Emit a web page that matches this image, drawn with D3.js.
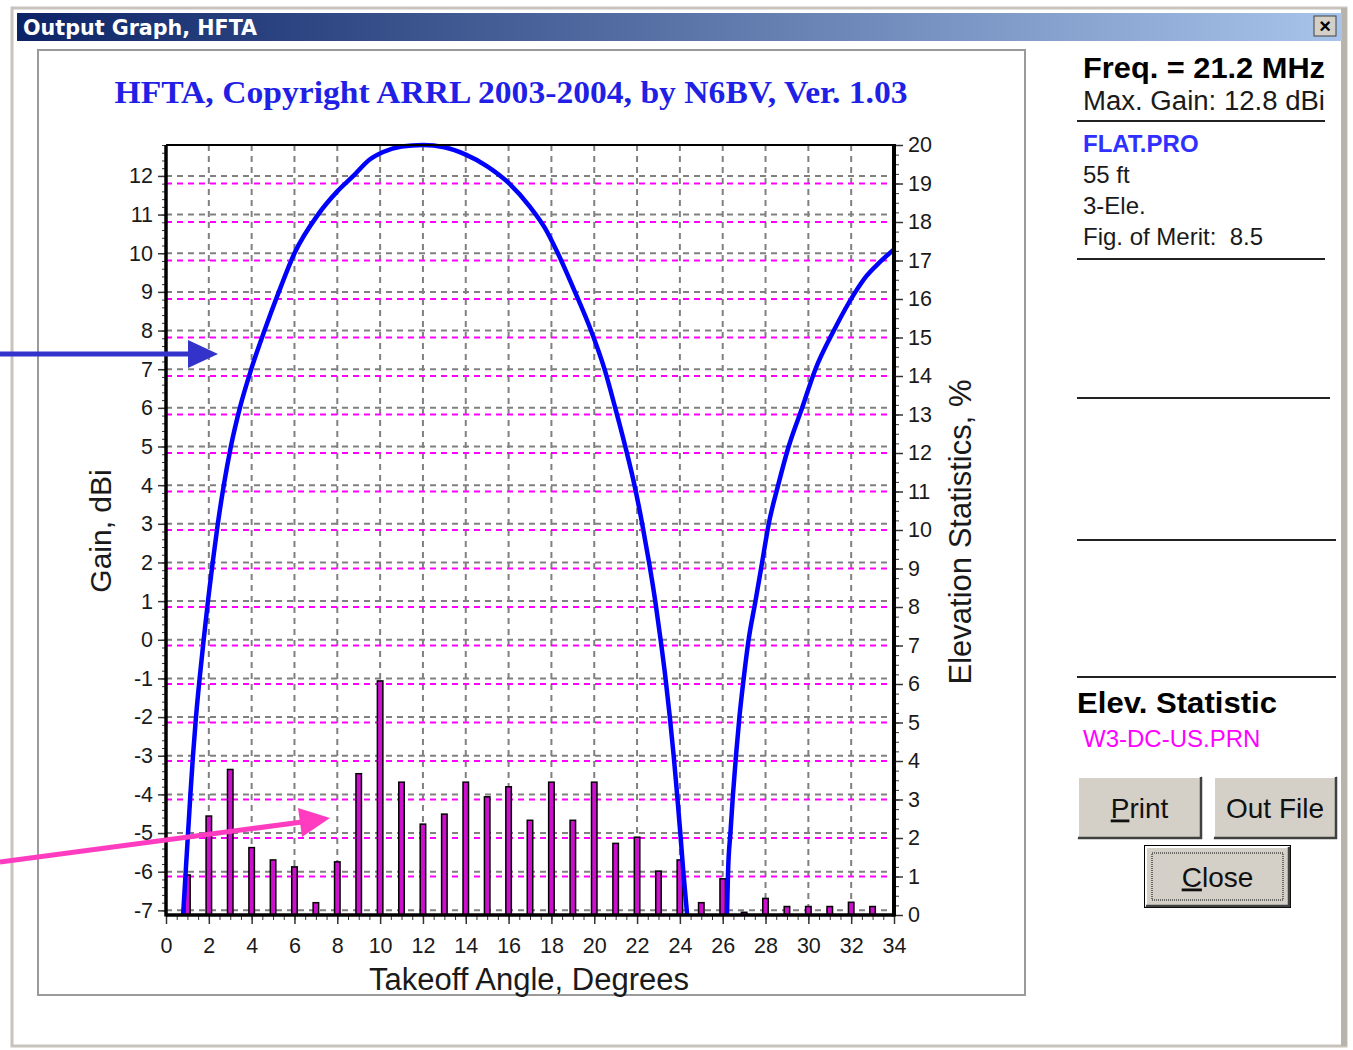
<!DOCTYPE html>
<html>
<head>
<meta charset="utf-8">
<script src="https://cdn.jsdelivr.net/npm/d3@7"></script>
<style>
  body { margin: 0; background: #fff; }
  svg text { font-family: "Liberation Sans", Arial, sans-serif; }
</style>
</head>
<body>
<svg id="chart" width="1353" height="1050"></svg>
<script>
// elevation statistics (% of openings) per takeoff angle
const barAngles = [1, 2, 3, 4, 5, 6, 7, 8, 9, 10, 11, 12, 13, 14, 15, 16, 17,
  18, 19, 20, 21, 22, 23, 24, 25, 26, 27, 28, 29, 30, 31, 32, 33]
const elevStats = [1.04, 2.57, 3.78, 1.75, 1.43, 1.25, 0.32, 1.38, 3.67, 6.08,
  3.45, 2.36, 2.62, 3.45, 3.07, 3.33, 2.46, 3.45, 2.46, 3.45, 1.86, 2.02, 1.14,
  1.43, 0.32, 0.94, 0.07, 0.43, 0.22, 0.22, 0.22, 0.33, 0.22]

// gain pattern, main lobe
const lobe1Angles = [0.8, 0.92, 1.03, 1.14, 1.26, 1.4, 1.57, 1.76, 1.96, 2.18,
  2.42, 2.7, 3.03, 3.45, 3.98, 4.6, 5.27, 6.0, 7.1, 8.0, 8.75, 9.5, 10.14, 11.0,
  12.0, 13.0, 14.0, 15.0, 16.0, 17.0, 17.7, 18.3, 19.1, 19.85, 20.48, 20.98,
  21.45, 21.88, 22.24, 22.56, 22.85, 23.1, 23.33, 23.53, 23.71, 23.87, 24.02,
  24.16, 24.34]
const lobe1Gain = [-7.12, -6, -5, -4, -3, -2, -1, 0, 1, 2, 3, 4, 5, 6, 7, 8, 9,
  10, 11, 11.6, 12, 12.42, 12.62, 12.76, 12.8, 12.74, 12.55, 12.25, 11.82, 11.2,
  10.65, 10, 9, 8, 7, 6, 5, 4, 3, 2, 1, 0, -1, -2, -3, -4, -5, -6, -7.12]

// gain pattern, second lobe
const lobe2Angles = [26.2, 26.25, 26.36, 26.48, 26.62, 26.78, 26.98, 27.21,
  27.53, 27.84, 28.15, 28.59, 29.08, 29.71, 30.33, 31.19, 32.2, 32.7, 33.3, 34.0]
const lobe2Gain = [-7.12, -6, -5, -4, -3, -2, -1, 0, 1, 2, 3, 4, 5, 6, 7, 8, 9,
  9.4, 9.75, 10.1]

const gainTicks = [-7, -6, -5, -4, -3, -2, -1, 0, 1, 2, 3, 4, 5, 6, 7, 8, 9, 10, 11, 12]
const elevTicks = [0, 1, 2, 3, 4, 5, 6, 7, 8, 9, 10, 11, 12, 13, 14, 15, 16, 17, 18, 19, 20]
const angleTicks = [0, 2, 4, 6, 8, 10, 12, 14, 16, 18, 20, 22, 24, 26, 28, 30, 32, 34]

const svg = d3.select('#chart')
const plotL = 166
const plotR = 894
const plotT = 145
const plotB = 915

const x = d3.scaleLinear().domain([0, 34]).range([plotL, plotR])
const yGain = d3.scaleLinear().domain([-7.12, 12.8]).range([plotB, plotT])
const yElev = d3.scaleLinear().domain([0, 20]).range([plotB, plotT])

// ---- window frame ----
const titleGrad = svg.append('defs').append('linearGradient')
  .attr('id', 'tgrad')
titleGrad.append('stop').attr('offset', '0%').attr('stop-color', '#0c2466')
titleGrad.append('stop').attr('offset', '100%').attr('stop-color', '#a8c4ea')

svg.append('rect').attr('x', 0).attr('y', 0).attr('width', 1353).attr('height', 1050)
  .attr('fill', '#ffffff')
svg.append('rect').attr('x', 12).attr('y', 8).attr('width', 1334).attr('height', 1038)
  .attr('fill', '#ffffff').attr('stroke', '#c8c4bc').attr('stroke-width', 3)
svg.append('rect').attr('x', 1341).attr('y', 8).attr('width', 6).attr('height', 1038)
  .attr('fill', '#b8b4ac')
svg.append('rect').attr('x', 17).attr('y', 13).attr('width', 1325).attr('height', 28)
  .attr('fill', 'url(#tgrad)')
svg.append('text').attr('x', 23).attr('y', 35)
  .attr('fill', '#ffffff').attr('font-weight', 'bold').attr('font-size', 22)
  .style('font-family', '"DejaVu Sans Condensed", "DejaVu Sans", sans-serif')
  .attr('textLength', 234).attr('lengthAdjust', 'spacingAndGlyphs')
  .text('Output Graph, HFTA')
svg.append('rect').attr('x', 1314).attr('y', 16).attr('width', 22).attr('height', 20)
  .attr('fill', '#d4d0c8').attr('stroke', '#404040').attr('stroke-width', 1)
svg.append('text').attr('x', 1325).attr('y', 33).attr('text-anchor', 'middle')
  .attr('font-size', 20).attr('font-weight', 'bold').attr('fill', '#000').text('×')

// chart panel
svg.append('rect').attr('x', 38).attr('y', 50).attr('width', 987).attr('height', 945)
  .attr('fill', '#ffffff').attr('stroke', '#9a9a9a').attr('stroke-width', 2)

// chart title
svg.append('text').attr('x', 511).attr('y', 103).attr('text-anchor', 'middle')
  .style('font-family', '"Liberation Serif", "Times New Roman", serif')
  .attr('font-weight', 'bold').attr('font-size', 31).attr('fill', '#1f1fe6')
  .attr('textLength', 793).attr('lengthAdjust', 'spacingAndGlyphs')
  .text('HFTA, Copyright ARRL 2003-2004, by N6BV, Ver. 1.03')

// ---- grid ----
const grid = svg.append('g')
grid.selectAll('.vgrid').data(angleTicks.filter(d => d > 0 && d < 34)).enter()
  .append('line').attr('class', 'vgrid')
  .attr('x1', d => x(d)).attr('x2', d => x(d))
  .attr('y1', plotT).attr('y2', plotB)
  .attr('stroke', '#808080').attr('stroke-width', 2).attr('stroke-dasharray', '6,5')
grid.selectAll('.hgrid').data(gainTicks).enter()
  .append('line').attr('class', 'hgrid')
  .attr('x1', plotL).attr('x2', plotR)
  .attr('y1', d => yGain(d)).attr('y2', d => yGain(d))
  .attr('stroke', '#808080').attr('stroke-width', 2).attr('stroke-dasharray', '6,5')
grid.selectAll('.egrid').data(elevTicks.filter(d => d > 0 && d < 20)).enter()
  .append('line').attr('class', 'egrid')
  .attr('x1', plotL).attr('x2', plotR)
  .attr('y1', d => yElev(d)).attr('y2', d => yElev(d))
  .attr('stroke', '#ff00ff').attr('stroke-width', 2).attr('stroke-dasharray', '6,5')

// ---- bars ----
svg.append('g').selectAll('rect').data(barAngles).enter()
  .append('rect')
  .attr('x', d => x(d) - 2.75)
  .attr('width', 5.5)
  .attr('y', (d, i) => yElev(elevStats[i]))
  .attr('height', (d, i) => plotB - yElev(elevStats[i]))
  .attr('fill', '#cc10cc').attr('stroke', '#000').attr('stroke-width', 1.5)

// ---- gain curve ----
svg.append('clipPath').attr('id', 'plotclip').append('rect')
  .attr('x', plotL).attr('y', plotT - 3).attr('width', plotR - plotL).attr('height', plotB - plotT + 3)
const line = d3.line().x(d => x(d[0])).y(d => yGain(d[1])).curve(d3.curveMonotoneX)
const curves = svg.append('g').attr('clip-path', 'url(#plotclip)')
curves.append('path').datum(lobe1Angles.map((a, i) => [a, lobe1Gain[i]]))
  .attr('d', line).attr('fill', 'none').attr('stroke', '#0000ff').attr('stroke-width', 4.5)
curves.append('path').datum(lobe2Angles.map((a, i) => [a, lobe2Gain[i]]))
  .attr('d', line).attr('fill', 'none').attr('stroke', '#0000ff').attr('stroke-width', 4.5)

// ---- axes ----
const tickFont = g => g.selectAll('text')
  .attr('font-size', 21.5).attr('fill', '#1a1a1a')
  .style('font-family', '"Liberation Sans", Arial, sans-serif')
const plain = d => String(d)

svg.append('g').attr('transform', `translate(${plotL},0)`)
  .call(d3.axisLeft(yGain).tickValues(d3.range(-7, 12.81, 0.2)).tickFormat('').tickSize(4))
  .call(g => g.select('.domain').remove())
  .call(g => g.selectAll('line').attr('stroke', '#333'))
svg.append('g').attr('transform', `translate(${plotL},0)`)
  .call(d3.axisLeft(yGain).tickValues(gainTicks).tickFormat(plain).tickSize(8).tickPadding(5))
  .call(g => g.select('.domain').remove())
  .call(g => g.selectAll('line').attr('stroke', '#333').attr('stroke-width', 1.5))
  .call(tickFont)

svg.append('g').attr('transform', `translate(${plotR},0)`)
  .call(d3.axisRight(yElev).tickValues(d3.range(0, 20.01, 0.25)).tickFormat('').tickSize(5))
  .call(g => g.select('.domain').remove())
  .call(g => g.selectAll('line').attr('stroke', '#333'))
svg.append('g').attr('transform', `translate(${plotR},0)`)
  .call(d3.axisRight(yElev).tickValues(elevTicks).tickFormat(plain).tickSize(9).tickPadding(5))
  .call(g => g.select('.domain').remove())
  .call(g => g.selectAll('line').attr('stroke', '#333').attr('stroke-width', 1.5))
  .call(tickFont)

svg.append('g').attr('transform', `translate(0,${plotB})`)
  .call(d3.axisBottom(x).tickValues(d3.range(0, 34.01, 0.5)).tickFormat('').tickSize(5))
  .call(g => g.select('.domain').remove())
  .call(g => g.selectAll('line').attr('stroke', '#333'))
svg.append('g').attr('transform', `translate(0,${plotB})`)
  .call(d3.axisBottom(x).tickValues(angleTicks).tickFormat(plain).tickSize(9).tickPadding(14))
  .call(g => g.select('.domain').remove())
  .call(g => g.selectAll('line').attr('stroke', '#333').attr('stroke-width', 1.5))
  .call(tickFont)

// frame lines
svg.append('line').attr('x1', plotL).attr('x2', plotR).attr('y1', plotT).attr('y2', plotT)
  .attr('stroke', '#000').attr('stroke-width', 2)
svg.append('line').attr('x1', plotL).attr('x2', plotL).attr('y1', plotT).attr('y2', plotB + 1.5)
  .attr('stroke', '#000').attr('stroke-width', 3.5)
svg.append('line').attr('x1', plotR).attr('x2', plotR).attr('y1', plotT - 1).attr('y2', plotB + 1.5)
  .attr('stroke', '#000').attr('stroke-width', 4)
svg.append('line').attr('x1', plotL).attr('x2', plotR).attr('y1', plotB).attr('y2', plotB)
  .attr('stroke', '#000').attr('stroke-width', 3.5)

// axis titles
svg.append('text').attr('transform', 'translate(111,531) rotate(-90)')
  .attr('text-anchor', 'middle').attr('font-size', 30).attr('fill', '#1a1a1a')
  .text('Gain, dBi')
svg.append('text').attr('transform', 'translate(971,532) rotate(-90)')
  .attr('text-anchor', 'middle').attr('font-size', 31).attr('fill', '#1a1a1a')
  .text('Elevation Statistics, %')
svg.append('text').attr('x', 529).attr('y', 990)
  .attr('text-anchor', 'middle').attr('font-size', 31).attr('fill', '#1a1a1a')
  .text('Takeoff Angle, Degrees')

// ---- annotation arrows ----
svg.append('line').attr('x1', 0).attr('y1', 354).attr('x2', 192).attr('y2', 354)
  .attr('stroke', '#3333cc').attr('stroke-width', 5)
svg.append('polygon').attr('points', '188,340 218,354 188,368').attr('fill', '#3333cc')
svg.append('line').attr('x1', 0).attr('y1', 862).attr('x2', 302).attr('y2', 822)
  .attr('stroke', '#ff3cc0').attr('stroke-width', 5)
svg.append('polygon').attr('points', '298,808 330,818 302,837').attr('fill', '#ff3cc0')

// ---- side panel ----
const side = svg.append('g')
side.append('text').attr('x', 1083).attr('y', 78).attr('font-size', 29)
  .attr('font-weight', 'bold').attr('fill', '#000')
  .attr('textLength', 242).attr('lengthAdjust', 'spacingAndGlyphs')
  .text('Freq. = 21.2 MHz')
side.append('text').attr('x', 1083).attr('y', 110).attr('font-size', 27)
  .attr('fill', '#1a1a1a')
  .attr('textLength', 242).attr('lengthAdjust', 'spacingAndGlyphs')
  .text('Max. Gain: 12.8 dBi')
side.append('text').attr('x', 1083).attr('y', 152).attr('font-size', 24)
  .attr('font-weight', 'bold').attr('fill', '#3030ff').text('FLAT.PRO')
side.append('text').attr('x', 1083).attr('y', 183).attr('font-size', 24)
  .attr('fill', '#1a1a1a').text('55 ft')
side.append('text').attr('x', 1083).attr('y', 214).attr('font-size', 24)
  .attr('fill', '#1a1a1a').text('3-Ele.')
side.append('text').attr('x', 1083).attr('y', 245).attr('font-size', 24)
  .attr('fill', '#1a1a1a').attr('xml:space', 'preserve').text('Fig. of Merit:  8.5')
const sepLines = [[1077, 1325, 121], [1077, 1325, 259], [1077, 1330, 398], [1077, 1336, 540], [1077, 1336, 677]]
side.selectAll('.sep').data(sepLines).enter().append('line')
  .attr('x1', d => d[0]).attr('x2', d => d[1]).attr('y1', d => d[2]).attr('y2', d => d[2])
  .attr('stroke', '#222').attr('stroke-width', 2)
side.append('text').attr('x', 1077).attr('y', 713).attr('font-size', 29)
  .attr('font-weight', 'bold').attr('fill', '#000')
  .attr('textLength', 200).attr('lengthAdjust', 'spacingAndGlyphs')
  .text('Elev. Statistic')
side.append('text').attr('x', 1083).attr('y', 747).attr('font-size', 24)
  .attr('fill', '#ff00ff').text('W3-DC-US.PRN')

// buttons
function button (bx, by, bw, bh, label, underline, focused) {
  const b = side.append('g')
  if (focused) {
    b.append('rect').attr('x', bx - 1).attr('y', by - 1).attr('width', bw + 2).attr('height', bh + 2)
      .attr('fill', '#000')
  }
  b.append('rect').attr('x', bx).attr('y', by).attr('width', bw).attr('height', bh).attr('fill', '#d4d0c8')
  b.append('path').attr('d', `M${bx + 1},${by + bh - 1}V${by + 1}H${bx + bw - 1}`)
    .attr('fill', 'none').attr('stroke', '#ffffff').attr('stroke-width', 2)
  b.append('path').attr('d', `M${bx + 1},${by + bh - 1}H${bx + bw - 1}V${by + 1}`)
    .attr('fill', 'none').attr('stroke', '#404040').attr('stroke-width', 2.5)
  if (focused) {
    b.append('rect').attr('x', bx + 7).attr('y', by + 7).attr('width', bw - 14).attr('height', bh - 14)
      .attr('fill', 'none').attr('stroke', '#000').attr('stroke-width', 1).attr('stroke-dasharray', '1,1')
  }
  const t = b.append('text').attr('x', bx + bw / 2).attr('y', by + bh / 2 + 10)
    .attr('text-anchor', 'middle').attr('font-size', 28).attr('fill', '#111')
  if (underline) {
    t.append('tspan').attr('text-decoration', 'underline').text(label[0])
    t.append('tspan').text(label.slice(1))
  } else {
    t.text(label)
  }
}
button(1077, 776, 125, 63, 'Print', true, false)
button(1213, 776, 124, 63, 'Out File', false, false)
button(1145, 846, 145, 61, 'Close', true, true)
</script>
</body>
</html>
